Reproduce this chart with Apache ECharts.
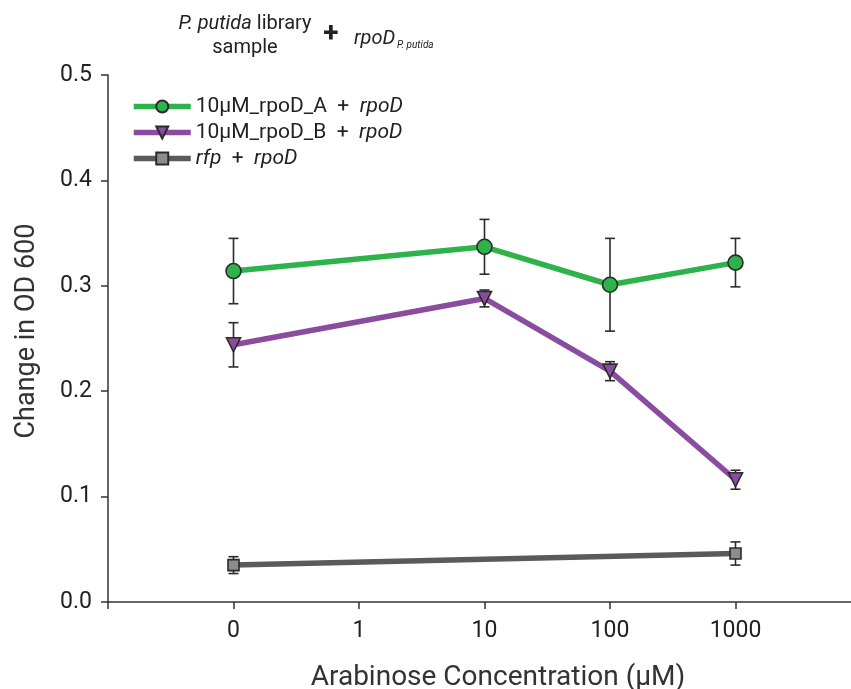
<!DOCTYPE html>
<html><head><meta charset="utf-8">
<script src="https://cdn.jsdelivr.net/npm/echarts@6/dist/echarts.min.js"></script>
<style>html,body{margin:0;padding:0;background:#fff}#c{width:851px;height:689px}</style>
</head><body><div id="c"></div>
<script>
const categories = ['', '0', '1', '10', '100', '1000', ''];
const yTicks = [0, 0.1, 0.2, 0.3, 0.4, 0.5];

const aX = ['0', '10', '100', '1000'];
const aY = [0.314, 0.337, 0.301, 0.322];
const aErr = [0.031, 0.026, 0.044, 0.023];

const bX = ['0', '10', '100', '1000'];
const bY = [0.244, 0.288, 0.219, 0.116];
const bErr = [0.021, 0.008, 0.009, 0.009];

const cX = ['0', '1000'];
const cY = [0.035, 0.046];
const cErr = [0.008, 0.011];

const names = ['10µM_rpoD_A', '10µM_rpoD_B', 'rfp'];

const FONT = 'Roboto';
const chart = echarts.init(document.getElementById('c'));

function pts(xs, ys) { return xs.map((x, i) => [categories.indexOf(x), ys[i]]); }
function errs(xs, ys, es) { return xs.map((x, i) => [categories.indexOf(x), ys[i] - es[i], ys[i] + es[i]]); }

function errSeries(xs, ys, es) {
  return {
    type: 'custom', z: 1, silent: true,
    data: errs(xs, ys, es),
    renderItem: function (params, api) {
      const lo = api.coord([api.value(0), api.value(1)]);
      const hi = api.coord([api.value(0), api.value(2)]);
      const w = 5;
      const st = { stroke: '#2b2b2b', lineWidth: 1.6 };
      return { type: 'group', children: [
        { type: 'line', shape: { x1: lo[0], y1: lo[1], x2: hi[0], y2: hi[1] }, style: st },
        { type: 'line', shape: { x1: lo[0] - w, y1: lo[1], x2: lo[0] + w, y2: lo[1] }, style: st },
        { type: 'line', shape: { x1: hi[0] - w, y1: hi[1], x2: hi[0] + w, y2: hi[1] }, style: st }
      ]};
    },
    encode: { x: 0, y: [1, 2] }
  };
}

function lineSeries(name, data, color, fill, symbol, size, rot) {
  return {
    name: name, type: 'line', z: 3, data: data,
    symbol: symbol, symbolSize: size, symbolRotate: rot || 0, showAllSymbol: true,
    lineStyle: { color: color, width: 5.5 },
    itemStyle: { color: fill, borderColor: '#2b2b2b', borderWidth: 1.6 },
    emphasis: { disabled: true }, animation: false
  };
}

chart.setOption({
  animation: false,
  grid: { left: 108, top: 75, bottom: 87, width: 753, outerBoundsMode: 'none', containLabel: false },
  xAxis: {
    type: 'category', data: categories, boundaryGap: false,
    axisLine: { lineStyle: { color: '#333', width: 1.5 } },
    axisTick: { show: true, length: 7, lineStyle: { color: '#333', width: 1.5 } },
    axisLabel: { fontFamily: FONT, fontSize: 23, color: '#222', margin: 18 },
    splitLine: { show: false }
  },
  yAxis: {
    type: 'value', min: yTicks[0], max: yTicks[yTicks.length - 1], interval: 0.1,
    axisLine: { show: true, lineStyle: { color: '#333', width: 1.5 } },
    axisTick: { show: true, length: 7, lineStyle: { color: '#333', width: 1.5 } },
    axisLabel: { fontFamily: FONT, fontSize: 23, color: '#222', margin: 16, formatter: v => v.toFixed(1) },
    splitLine: { show: false }
  },
  legend: {
    orient: 'vertical', left: 126, top: 91, itemGap: 5,
    itemWidth: 57, itemHeight: 15,
    lineStyle: { width: 5.5 },
    data: names,
    textStyle: {
      fontFamily: FONT, fontSize: 21, color: '#222',
      rich: {
        n: { fontFamily: FONT, fontSize: 21, color: '#222' },
        i: { fontFamily: FONT, fontSize: 21, color: '#222', fontStyle: 'italic' }
      }
    },
    formatter: function (n) {
      if (n === 'rfp') return '{i|rfp}{n|  +  }{i|rpoD}';
      return '{n|' + n + '  +  }{i|rpoD}';
    }
  },
  graphic: [
    { type: 'text', x: 245, y: 24, style: { text: '{i|P. putida}{n| library}', fontFamily: FONT, fontSize: 20, fill: '#222', align: 'center', verticalAlign: 'middle',
      rich: { i: { fontStyle: 'italic', fontFamily: FONT, fontSize: 20, fill: '#222' }, n: { fontFamily: FONT, fontSize: 20, fill: '#222' } } } },
    { type: 'text', x: 245, y: 48, style: { text: 'sample', fontFamily: FONT, fontSize: 20, fill: '#222', align: 'center', verticalAlign: 'middle' } },
    { type: 'text', x: 331, y: 35, style: { text: '+', fontFamily: FONT, fontSize: 28, fontWeight: 'bold', fill: '#222', align: 'center', verticalAlign: 'middle' } },
    { type: 'text', x: 354, y: 39, style: { text: 'rpoD', fontFamily: FONT, fontSize: 20, fontStyle: 'italic', fill: '#222', verticalAlign: 'middle' } },
    { type: 'text', x: 397, y: 45, style: { text: 'P. putida', fontFamily: FONT, fontSize: 10, fontStyle: 'italic', fill: '#222', verticalAlign: 'middle' } },
    { type: 'text', x: 498, y: 678, style: { text: 'Arabinose Concentration (µM)', fontFamily: FONT, fontSize: 28, fill: '#333', align: 'center', verticalAlign: 'middle' } },
    { type: 'text', x: 27, y: 331, rotation: Math.PI / 2, style: { text: 'Change in OD 600', fontFamily: FONT, fontSize: 27, fill: '#333', align: 'center', verticalAlign: 'middle' } }
  ],
  series: [
    errSeries(cX, cY, cErr),
    errSeries(bX, bY, bErr),
    errSeries(aX, aY, aErr),
    lineSeries(names[2], pts(cX, cY), '#5a5a5a', '#8c8c8c', 'rect', 11),
    lineSeries(names[1], pts(bX, bY), '#8a4c9e', '#8a4c9e', 'triangle', 14, 180),
    lineSeries(names[0], pts(aX, aY), '#2eb24a', '#2eb24a', 'circle', 15)
  ]
});
</script></body></html>
